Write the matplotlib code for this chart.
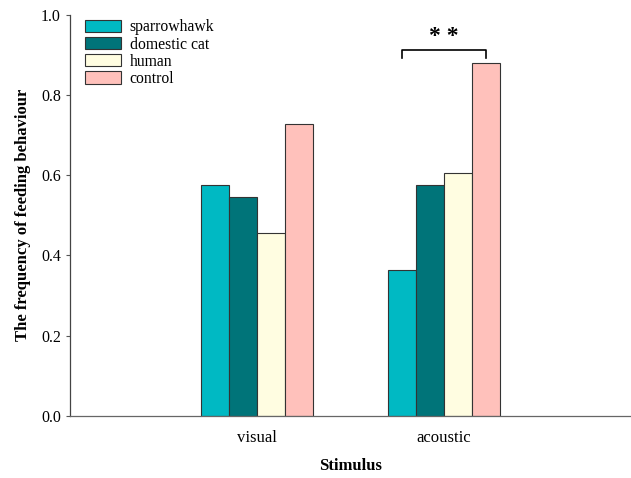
import matplotlib
matplotlib.use("Agg")
import matplotlib.pyplot as plt
import numpy as np

plt.rcParams['font.family'] = ['Liberation Serif', 'DejaVu Serif']

categories = ["visual", "acoustic"]
series_names = ["sparrowhawk", "domestic cat", "human", "control"]
values = {
    "sparrowhawk": [0.576, 0.364],
    "domestic cat": [0.545, 0.576],
    "human": [0.455, 0.606],
    "control": [0.727, 0.879],
}
colors = ["#00B9C3", "#007479", "#FFFDE1", "#FFC1BB"]
yticks = [0.0, 0.2, 0.4, 0.6, 0.8, 1.0]

fig = plt.figure(figsize=(6.31, 4.78), dpi=100)
ax = fig.add_axes([0.111, 0.130, 0.889, 0.839])

x = np.arange(1, len(categories) + 1)
w = 0.15
for i, name in enumerate(series_names):
    ax.bar(x + (i - 1.5) * w, values[name], width=w, color=colors[i],
           edgecolor="#333333", linewidth=0.8, label=name)

ax.set_xlim(0, 3)
ax.set_ylim(0, 1.0)
ax.set_xticks(x)
ax.set_xticklabels(categories, fontsize=12)
ax.tick_params(axis='x', length=0, pad=10)
ax.set_yticks(yticks)
ax.set_yticklabels([f"{t:.1f}" for t in yticks], fontsize=11.5)
ax.tick_params(axis='y', direction='out', length=3, width=0.8, color="#555555")
for s in ["top", "right"]:
    ax.spines[s].set_visible(False)
ax.spines["left"].set_color("#444444")
ax.spines["bottom"].set_color("#666666")
ax.spines["left"].set_linewidth(0.9)
ax.spines["bottom"].set_linewidth(0.9)

ax.set_ylabel("The frequency of feeding behaviour", fontsize=12, fontweight="bold", labelpad=7)
ax.set_xlabel("Stimulus", fontsize=12, fontweight="bold", labelpad=9)

# significance bracket between sparrowhawk and control in acoustic
x1 = x[1] + (0 - 1.5) * w
x2 = x[1] + (3 - 1.5) * w
yb = 0.913
ax.plot([x1, x1, x2, x2], [yb - 0.02, yb, yb, yb - 0.02], color="black", linewidth=1.2)
ax.text((x1 + x2) / 2, yb + 0.008, "* *", ha="center", va="bottom", fontsize=17, fontweight="bold")

ax.legend(loc="upper left", bbox_to_anchor=(0.01, 1.012), frameon=False, fontsize=11.3,
          handlelength=2.3, handleheight=0.85, labelspacing=0.07, handletextpad=0.55,
          borderaxespad=0.2)

fig.savefig("out.png", dpi=100)
